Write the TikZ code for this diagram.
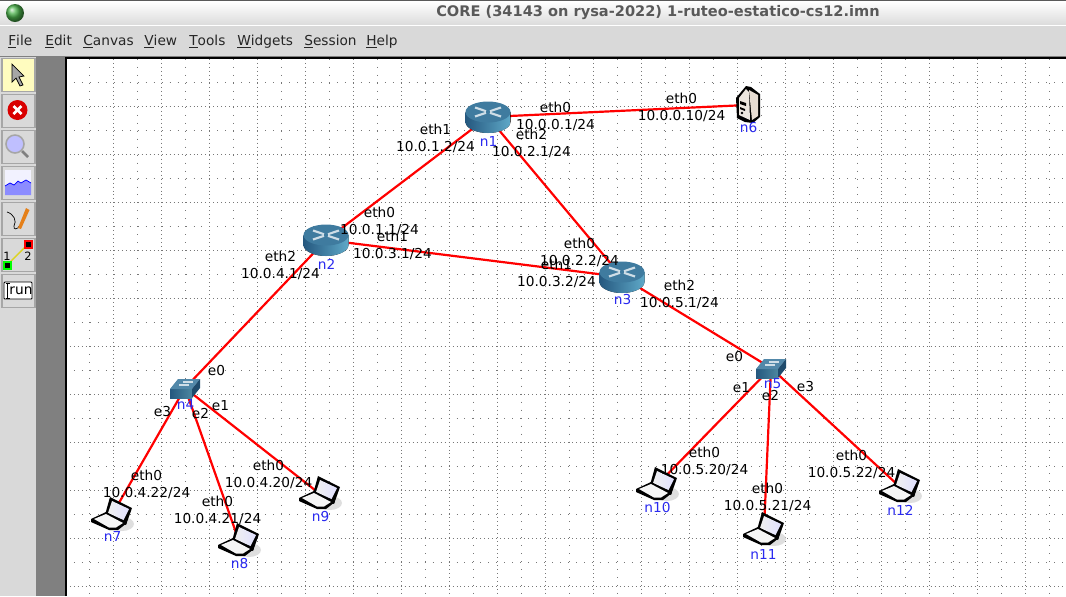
\documentclass[tikz,border=0pt]{standalone}
\usepackage{fontspec}
\setmainfont{DejaVu Sans}
\usetikzlibrary{positioning}
\definecolor{panelgray}{HTML}{D9D9D9}
\definecolor{sidegray}{HTML}{808080}
\definecolor{griddot}{HTML}{777777}
\definecolor{routerdark}{HTML}{25587F}
\definecolor{routerlight}{HTML}{5FA9C8}
\definecolor{routertop}{HTML}{3F7B9F}
\definecolor{namecol}{HTML}{2A2AF0}
\definecolor{serverbody}{HTML}{E6DCD2}
\tikzset{
  link/.style={draw=red, line width=1.25pt},
  iflabel/.style={align=center, inner sep=0pt, xshift=0.3pt, yshift=-0.4pt, font=\fontsize{7.8}{9.64}\selectfont},
  namelabel/.style={inner sep=0pt, xshift=0.3pt, text=namecol, font=\fontsize{7.8}{9.64}\selectfont},
  menulabel/.style={anchor=base west, inner sep=0pt, text=black!85, font=\fontsize{7.8}{9.64}\selectfont},
  devnode/.style={inner sep=0pt, outer sep=0pt, minimum size=0pt},
  toolbtn/.style={draw=black!35, fill=panelgray, line width=0.6pt, minimum width=0.66cm, minimum height=0.66cm, inner sep=0pt},
  griddense/.style={griddot, line width=0.567pt, dash pattern=on 0.567pt off 1.701pt},
  gridsparse/.style={griddot, line width=0.567pt, dash pattern=on 0.567pt off 3.969pt},
  router/.pic={
    \fill[left color=routerdark, right color=routerlight] (-22.5,-5) -- (-22.5,5) .. controls (-22.5,11) and (-12,16) .. (0,16) .. controls (12,16) and (22.5,11) .. (22.5,5) -- (22.5,-5) -- cycle;
    \fill[routertop] (0,-5) ellipse [x radius=22.5, y radius=10.5];
    \draw[white!75!routertop, line width=1.2pt] (-13,-9.5) -- (-2,-5.8) (13,-0.5) -- (2,-4.2) (13,-9.5) -- (2,-5.8) (-13,-0.5) -- (-2,-4.2);
  },
  switchicon/.pic={
    \fill[left color=routerdark, right color=routerlight!80!black] (-15,1) rectangle (7,10);
    \fill[routertop!90!white] (-15,1) -- (-7,-9) -- (15,-9) -- (7,1) -- cycle;
    \fill[routerdark!85!black] (7,1) -- (15,-9) -- (15,0) -- (7,10) -- cycle;
    \draw[white!75!routertop, line width=0.7pt] (-6,-3) -- (4,-3) (-2,-6) -- (8,-6);
  },
  server/.pic={
    \fill[black] (-11,-7) -- (-1,-19) -- (4,-18) -- (13,-11) -- (13,12) -- (6,18) -- (-2,17) -- (-10,13) -- cycle;
    \fill[serverbody] (2,-15) -- (11,-10) -- (11,11) -- (5,15) -- cycle;
    \fill[serverbody!70!white] (-8,-7) -- (-1,-16) -- (2,-13) -- (3,15) -- (-8,10) -- cycle;
    \fill[black] (-7,-4) -- (-1,-2) -- (-1,1) -- (-7,-1) -- cycle (-7,2) -- (-2,4) -- (-2,6) -- (-7,4) -- cycle (-5,8) circle (1.3);
  },
  laptop/.pic={
    \fill[black!13] (10,9) ellipse [x radius=12, y radius=7];
    \fill[black] (-2,-18) -- (20,-7) -- (14,10) -- (-7,0) -- cycle;
    \fill[left color=black!6, right color=blue!12] (0,-14) -- (17,-6) -- (11.5,5) -- (-4,-2) -- cycle;
    \fill[black] (-21,4) -- (-6,-3) -- (15,8) -- (6,15) -- (-3,15) -- (-21,7) -- cycle;
    \fill[black!4] (-18,4) -- (-6,-1) -- (11,8) -- (4,12.5) -- (-3,12.5) -- cycle;
  },
}
\begin{document}
\begin{tikzpicture}[x=0.02cm, y=-0.02cm]
    \useasboundingbox (0,0) rectangle (1066,596);
    % window frame
    \fill[panelgray] (0,0) rectangle (1066,596);
    \fill[top color=white, bottom color=black!14] (0,1) rectangle (1066,25);
    \fill[black!65] (0,0) rectangle (1066,1);
    \fill[white] (0,25) rectangle (1066,26);
    \fill[sidegray] (36,56) rectangle (66,596);
    \fill[sidegray] (0,56) rectangle (1066,58);
    \fill[white] (66,58) rectangle (1066,596);
    \fill[panelgray] (0,56.5) rectangle (36,596);
    \shade[ball color=green!40!gray] (15,13) circle (9);
    \node[inner sep=0pt, text=black!65, font=\fontsize{8.3}{10}\selectfont\bfseries] (title) at (658,13) {CORE (34143 on rysa-2022) 1-ruteo-estatico-cs12.imn};

    % menu bar
    \node[menulabel] (mfile) at (8,45) {\underline{F}ile};
    \node[menulabel] (medit) at (45,45) {\underline{E}dit};
    \node[menulabel] (mcanvas) at (83,45) {\underline{C}anvas};
    \node[menulabel] (mview) at (144,45) {\underline{V}iew};
    \node[menulabel] (mtools) at (189,45) {\underline{T}ools};
    \node[menulabel] (mwidgets) at (237,45) {\underline{W}idgets};
    \node[menulabel] (msession) at (304,45) {\underline{S}ession};
    \node[menulabel] (mhelp) at (366,45) {\underline{H}elp};

    % tool buttons
    \node[toolbtn, fill=yellow!25] (bselect) at (18.5,75) {};
    \node[toolbtn] (bstop) at (18.5,111) {};
    \node[toolbtn] (bzoom) at (18.5,147) {};
    \node[toolbtn] (bgraph) at (18.5,183) {};
    \node[toolbtn] (bdraw) at (18.5,219) {};
    \node[toolbtn] (blink) at (18.5,255) {};
    \node[toolbtn] (brun) at (18.5,291) {};
    \draw[black, fill=black!35, line width=0.4pt] (12,64) -- (24,76) -- (19,77) -- (23,85) -- (20,86) -- (16,78) -- (12,82) -- cycle;
    \fill[red!85!black] (17.5,110) circle (10);
    \draw[white, line width=1.5pt] (13.5,106) -- (21.5,114) (21.5,106) -- (13.5,114);
    \draw[black!50, line width=1.6pt] (22,151) -- (28,157);
    \draw[black!35, fill=blue!25, line width=0.9pt] (15,144) circle (9);
    \fill[blue!5] (5,170) rectangle (31,195);
    \fill[blue!45!white] (5,186) -- (10,183) -- (14,185) -- (18,181) -- (21,183) -- (26,180) -- (31,183) -- (31,195) -- (5,195) -- cycle;
    \draw[blue, line width=0.4pt] (5,186) -- (10,183) -- (14,185) -- (18,181) -- (21,183) -- (26,180) -- (31,183);
    \draw[black, line width=0.4pt] (7,212) .. controls (14,214) and (17,221) .. (14,226) .. controls (13,230) and (18,230) .. (20,225);
    \fill[orange!60!brown] (18,228) -- (26,208) -- (29.5,210) -- (21,229) -- cycle;
    \draw[yellow!85!black, line width=0.8pt] (7,265) -- (28,244);
    \draw[red, fill=black, line width=0.6pt] (25,241) rectangle (32,248);
    \draw[green, fill=black, line width=0.6pt] (4,262) rectangle (11,269);
    \node[inner sep=0pt, font=\fontsize{6.5}{8}\selectfont] (blinka) at (7,256) {1};
    \node[inner sep=0pt, font=\fontsize{6.5}{8}\selectfont] (blinkb) at (28,256) {2};
    \draw[black, fill=white, rounded corners=0.5pt, line width=0.5pt] (4,282) rectangle (32,299);
    \node[inner sep=0pt, font=\fontsize{7.8}{9}\selectfont] (runtext) at (21,291) {run};
    \draw[black, line width=0.4pt] (7.5,283) -- (7.5,298) (5.5,283) -- (9.5,283) (5.5,298) -- (9.5,298);

    % canvas grid
    \begin{scope}
    \clip (67,59) rectangle (1066,596);
    \foreach \gx in {89.5,137.5,...,1066} \draw[gridsparse] (\gx,59) -- (\gx,596);
    \foreach \gx in {113.5,161.5,...,1066} \draw[griddense] (\gx,59) -- (\gx,596);
    \foreach \gy in {82.5,130.5,...,596} \draw[gridsparse] (66,\gy) -- (1066,\gy);
    \foreach \gy in {106.5,154.5,...,596} \draw[griddense] (66,\gy) -- (1066,\gy);
    \end{scope}
    \draw[black, line width=0.7pt] (66,596) -- (66,58) -- (1066,58);

    % devices
    \node[devnode] (n1) at (488,117) {};
    \node[devnode] (n2) at (326,240) {};
    \node[devnode] (n3) at (622,277) {};
    \node[devnode] (n4) at (185,388) {};
    \node[devnode] (n5) at (771,368) {};
    \node[devnode] (n6) at (747,105) {};
    \node[devnode] (n7) at (112,515) {};
    \node[devnode] (n8) at (239,541) {};
    \node[devnode] (n9) at (320,494) {};
    \node[devnode] (n10) at (657,485) {};
    \node[devnode] (n11) at (764,530) {};
    \node[devnode] (n12) at (900,487) {};

    % links
    \draw[link] (n1) -- (n6);
    \draw[link] (n1) -- (n2);
    \draw[link] (n1) -- (n3);
    \draw[link] (n2) -- (n3);
    \draw[link] (n2) -- (n4);
    \draw[link] (n3) -- (n5);
    \draw[link] (n4) -- (n7);
    \draw[link] (n4) -- (n8);
    \draw[link] (n4) -- (n9);
    \draw[link] (n5) -- (n10);
    \draw[link] (n5) -- (n11);
    \draw[link] (n5) -- (n12);

    % icons
    \foreach \dev in {n1,n2,n3} \pic at (\dev) {router};
    \foreach \dev in {n4,n5} \pic at (\dev) {switchicon};
    \pic at (n6) {server};
    \foreach \dev in {n7,n8,n9,n10,n11,n12} \pic at (\dev) {laptop};

    % device names
    \node[namelabel] (n1name) at (488,141) {n1};
    \node[namelabel] (n2name) at (326,264) {n2};
    \node[namelabel] (n3name) at (622,300) {n3};
    \node[namelabel] (n4name) at (185,404) {n4};
    \node[namelabel] (n5name) at (772,384) {n5};
    \node[namelabel] (n6name) at (748,128) {n6};
    \node[namelabel] (n7name) at (112,536) {n7};
    \node[namelabel] (n8name) at (239,564) {n8};
    \node[namelabel] (n9name) at (320,517) {n9};
    \node[namelabel] (n10name) at (657,508) {n10};
    \node[namelabel] (n11name) at (763,554) {n11};
    \node[namelabel] (n12name) at (900,510) {n12};

    % interface labels
    \node[iflabel] (n1eth0) at (555,115.5) {eth0\\10.0.0.1/24};
    \node[iflabel] (n6eth0) at (681,106.5) {eth0\\10.0.0.10/24};
    \node[iflabel] (n1eth1) at (435,137.5) {eth1\\10.0.1.2/24};
    \node[iflabel] (n1eth2) at (531,142.5) {eth2\\10.0.2.1/24};
    \node[iflabel] (n2eth0) at (379,220.5) {eth0\\10.0.1.1/24};
    \node[iflabel] (n2eth1) at (392,244.5) {eth1\\10.0.3.1/24};
    \node[iflabel] (n2eth2) at (280,264.5) {eth2\\10.0.4.1/24};
    \node[iflabel] (n3eth0) at (579,251.5) {eth0\\10.0.2.2/24};
    \node[iflabel] (n3eth1) at (556,272.5) {eth1\\10.0.3.2/24};
    \node[iflabel] (n3eth2) at (679,293.5) {eth2\\10.0.5.1/24};
    \node[iflabel] (n4e0) at (216,370) {e0};
    \node[iflabel] (n4e1) at (220,405) {e1};
    \node[iflabel] (n4e2) at (200,413) {e2};
    \node[iflabel] (n4e3) at (162,411) {e3};
    \node[iflabel] (n5e0) at (734,356) {e0};
    \node[iflabel] (n5e1) at (741,387) {e1};
    \node[iflabel] (n5e2) at (770,395) {e2};
    \node[iflabel] (n5e3) at (805,386) {e3};
    \node[iflabel] (n7eth0) at (146,483.5) {eth0\\10.0.4.22/24};
    \node[iflabel] (n8eth0) at (217,509.5) {eth0\\10.0.4.21/24};
    \node[iflabel] (n9eth0) at (268,473.5) {eth0\\10.0.4.20/24};
    \node[iflabel] (n10eth0) at (704,460.5) {eth0\\10.0.5.20/24};
    \node[iflabel] (n11eth0) at (767,496.5) {eth0\\10.0.5.21/24};
    \node[iflabel] (n12eth0) at (851,463.5) {eth0\\10.0.5.22/24};
\end{tikzpicture}
\end{document}
